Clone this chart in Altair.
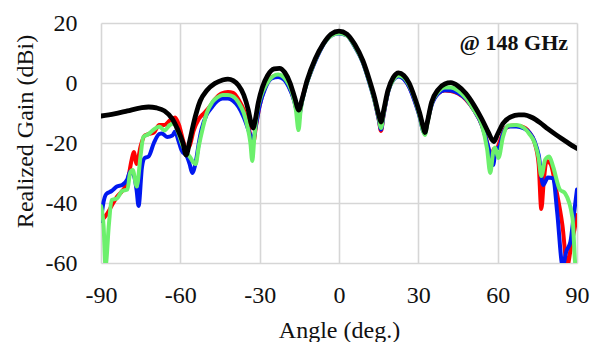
import altair as alt
import pandas as pd

# ---- data ----
black_x = [-90, -85, -80, -75, -72, -69, -66, -63, -61, -59, -57.8, -56.5, -55, -52.5, -50, -47, -44, -42, -40, -38, -36,
           -34.3, -33.2, -32.5, -31.7, -30.5, -29, -27, -24.5, -22.5, -20.5, -18.5, -16.7, -15.2, -14, -12, -9, -6, -3, 0,
           3, 6, 9, 11.5, 13.5, 15, 15.9, 16.8, 18.5, 20.5, 22.5, 24.5, 26.5, 28.5, 30.5, 31.8, 32.5, 33.3, 35, 37.5,
           40, 42.3, 45, 48, 51, 54, 56.5, 58.5, 60, 62, 65, 68, 70, 73, 76, 79, 82, 85, 88, 90]
black_y = [-11, -10.3, -9.3, -8.3, -8.0, -8.3, -9.3, -12, -15.5, -20, -24, -19.5, -13.5, -6, -2.5, -0.2, 1.0, 1.3, 0.8, -0.8, -4,
           -9, -13.5, -15, -12.5, -6.5, -1.5, 2.5, 4.7, 4.9, 3.5, 0, -5, -9, -5.5, 1, 8, 13, 16.3, 17.3,
           16.3, 12.8, 7.5, 1, -5, -10.5, -13, -9.5, -2.5, 1.8, 3.4, 2.5, 0, -4.5, -10, -14.5, -16.5, -13.5, -6.5, -2.2,
           -0.3, 0.1, -1, -3.5, -7.3, -12, -16.5, -19.5, -17, -13.5, -11.3, -10.6, -10.6, -11.5, -13.2, -15.3, -17.2, -19, -20.8, -21.8]

green_x = [-90, -89, -88.3, -87, -86, -84, -82, -80, -79, -78, -76.5, -75, -74, -72, -70, -68, -66, -64, -62.5, -61, -59.5,
           -58, -56.5, -55, -54.2, -53, -51.5, -50, -48, -46, -44, -42, -40, -38, -36, -34.5, -33.5, -32.8, -32, -31,
           -29.5, -27.5, -25, -23, -21, -19, -17.5, -16.3, -15.3, -14.5, -13, -11, -8, -5, -2.5, 0, 3, 6, 9, 11.5,
           13.5, 15, 15.9, 16.8, 18.5, 20.5, 22.5, 24.5, 26.5, 28.5, 30.5, 31.8, 32.5, 33.3, 35, 37.5, 40, 42.3, 45, 48,
           51, 54, 56, 57.2, 58.3, 59, 60.3, 62, 64, 67, 70, 72, 74, 75.5, 76.5, 78, 79.5, 81, 83.5, 85.5, 88.3, 89.5, 90]
green_y = [-41, -48, -61, -47, -39, -38.5, -36, -35.5, -30, -29, -34.5, -24, -18, -17, -15.5, -14.5, -15.8, -14, -13.5, -16, -20,
           -23, -24.5, -26.5, -27, -21, -15, -10, -6.5, -4.8, -4, -4, -4.5, -6.5, -10, -15, -20, -26, -18, -10,
           -4.5, -0.5, 2.2, 2.8, 2, -0.5, -4, -9, -15.7, -9, -2.5, 3, 9.5, 14, 16, 16.6, 15.8, 12.2, 7, 0.3,
           -6, -11.5, -15, -10.5, -3, 1, 2.5, 1.8, -0.7, -5, -11, -16, -17.3, -14, -7, -3, -1.5, -1.5, -2.5, -5,
           -9, -14, -22, -30, -23, -21.5, -25, -18, -14.2, -14, -15, -17, -20, -25, -31, -25.5, -24.5, -28, -35.5, -36.8, -45, -61, -61]

red_x = [-90, -88, -86, -84, -82, -80, -78.5, -77.6, -76.5, -75, -73.5, -72, -70, -68, -66, -64, -62, -60.5, -59, -57.8,
         -56.5, -55, -53, -51, -49, -47, -44.5, -42, -40, -38, -36, -34.5, -33, -32.3, -31.5, -30, -28, -25.5, -23, -21,
         -19, -17, -15.8, -15.2, -14.5, -13, -11, -8, -5, -2.5, 0, 3, 6, 9, 11.5, 13.5, 15, 15.9, 16.8, 18.5,
         20.5, 22.5, 24.5, 26.5, 28.5, 30.5, 31.8, 32.5, 33.3, 35, 37.5, 40, 42.3, 45, 48, 51, 54, 56.5, 57.5, 58.5,
         59.5, 61, 63, 66, 69, 72, 74, 75.5, 76.5, 77.5, 78.5, 80, 82, 84.5, 86.3, 88, 89, 90]
red_y = [-46, -44, -41, -38, -36, -33, -26, -23, -27, -21, -17.5, -17, -16.5, -14, -14, -12.5, -11.5, -14, -19, -22,
         -21, -16, -12, -10, -8, -5.5, -3.5, -3, -3.3, -5.5, -9, -13.5, -19, -19.5, -15, -7.5, -1.5, 2, 2.5, 1.8,
         -1, -5.5, -10, -12, -8, -2, 3, 9.5, 14.2, 16.2, 16.8, 16, 12.3, 7.2, 0.5, -6, -12, -16, -11, -3,
         1.3, 2.4, 1.5, -1.2, -5.5, -11, -15.5, -16.5, -13.5, -7, -3.5, -2.5, -2.7, -3.5, -5.5, -9, -14, -22, -28, -22,
         -22, -19, -15, -14.2, -14.5, -16.5, -20, -27, -42, -32, -26, -27, -35, -47.5, -61, -53, -49, -44]

blue_x = [-90, -89.3, -88, -86, -84, -82, -80, -79, -77.5, -76.5, -75.8, -74.5, -73.5, -72, -70, -68, -67, -65, -63, -62,
          -60.8, -59.5, -57.5, -56.5, -55.5, -54.2, -53, -52, -50, -48, -46, -44, -42, -40, -38, -36, -34.5, -33.3, -32.5, -31.5,
          -30, -28, -25.5, -23, -21, -19, -17, -15.8, -15.2, -14.5, -13, -11, -8, -5, -2.5, 0, 3, 6, 9, 11.5,
          13.5, 15, 15.9, 16.8, 18.5, 20.5, 22.5, 24.5, 26.5, 28.5, 30.5, 31.8, 32.5, 33.3, 35, 37.5, 40, 42.3, 45, 48,
          51, 54, 56.5, 58.3, 59.3, 60.5, 62, 64, 67, 70, 72, 74, 75.5, 77.2, 79, 81, 82.5, 84.6, 86, 87.5, 88.8, 90]
blue_y = [-46, -41, -37, -36, -34.5, -34, -32, -29.5, -31, -36, -41, -28, -25, -24.5, -20, -17, -16.8, -18, -17.5, -16.2,
          -19, -22.5, -24.5, -27, -30, -26.5, -20, -15.5, -10.5, -8, -6, -5.2, -5.2, -6, -8, -11.5, -15, -18, -19, -14.5,
          -7.5, -2, 1.5, 2, 1.3, -1.3, -5.8, -10, -12, -8.5, -2.5, 2.8, 9.2, 14, 16, 16.5, 15.8, 12, 6.8, 0,
          -6.2, -12, -15.5, -11, -3.3, 1, 2.2, 1.3, -1.3, -5.8, -11.3, -16, -16.8, -13.5, -7.5, -3.5, -2.4, -2.5, -3.3, -5.3,
          -9, -14, -21.5, -27.3, -22, -21.5, -17, -14.5, -14.5, -15.2, -16.5, -19.5, -24, -34, -31.5, -31.8, -43, -61, -56, -53, -44, -35.5]

x_ticks = [-90, -60, -30, 0, 30, 60, 90]
y_ticks = [-60, -40, -20, 0, 20]
annotation = "@ 148 GHz"

FONT = "Liberation Serif"
HYPHEN_LABEL = "datum.value < 0 ? '-' + abs(datum.value) : '' + datum.value"

x_scale = alt.Scale(domain=[-90, 90], nice=False, zero=False)
y_scale = alt.Scale(domain=[-60, 20], nice=False, zero=False)

x_axis = alt.Axis(values=x_ticks, title="Angle (deg.)", grid=True, domain=False, ticks=False,
                  labelExpr=HYPHEN_LABEL,
                  labelFont=FONT, labelFontSize=24, labelPadding=20, labelColor="#111111",
                  labelFlush=False, labelOverlap=False,
                  titleFont=FONT, titleFontSize=24, titleFontWeight="normal", titleColor="#111111",
                  titleBaseline="alphabetic", titleY=74,
                  gridColor="#d6d6d6", gridWidth=1.6)
y_axis = alt.Axis(values=y_ticks, title="Realized Gain (dBi)", grid=True, domain=False, ticks=False,
                  labelExpr=HYPHEN_LABEL,
                  labelFont=FONT, labelFontSize=24, labelPadding=24, labelColor="#111111",
                  labelFlush=False, labelOverlap=False,
                  titleFont=FONT, titleFontSize=24, titleFontWeight="normal", titleColor="#111111",
                  titleBaseline="alphabetic", titleAngle=270, titleX=-69, titleY=108, titleAlign="center",
                  gridColor="#d6d6d6", gridWidth=1.6)

X = alt.X("angle:Q", scale=x_scale, axis=x_axis)
Y = alt.Y("gain:Q", scale=y_scale, axis=y_axis)


def line(xs, ys, color, width):
    df = pd.DataFrame({"angle": xs, "gain": ys})
    return alt.Chart(df).mark_line(interpolate="monotone", clip=True, color=color,
                                   strokeWidth=width, strokeJoin="round", strokeCap="round").encode(x=X, y=Y)


red = line(red_x, red_y, "#ff0000", 4.0)
blue = line(blue_x, blue_y, "#0018f0", 4.0)
green = line(green_x, green_y, "#6cf06c", 4.0)
black = line(black_x, black_y, "#000000", 4.8)

label = alt.Chart(pd.DataFrame({"angle": [86.6], "gain": [11], "text": [annotation]})).mark_text(
    align="right", baseline="alphabetic", font=FONT, fontSize=22, fontWeight="bold", color="#111111"
).encode(x=X, y=Y, text="text:N")

chart = alt.layer(red, blue, green, black, label).properties(
    width=476, height=240,
    autosize=alt.AutoSizeParams(type="none"),
    padding={"left": 101, "top": 23, "right": 13, "bottom": 79},
    background="white",
).configure_view(stroke=None)

chart.save("out.html", embed_options={"renderer": "svg", "actions": False})
